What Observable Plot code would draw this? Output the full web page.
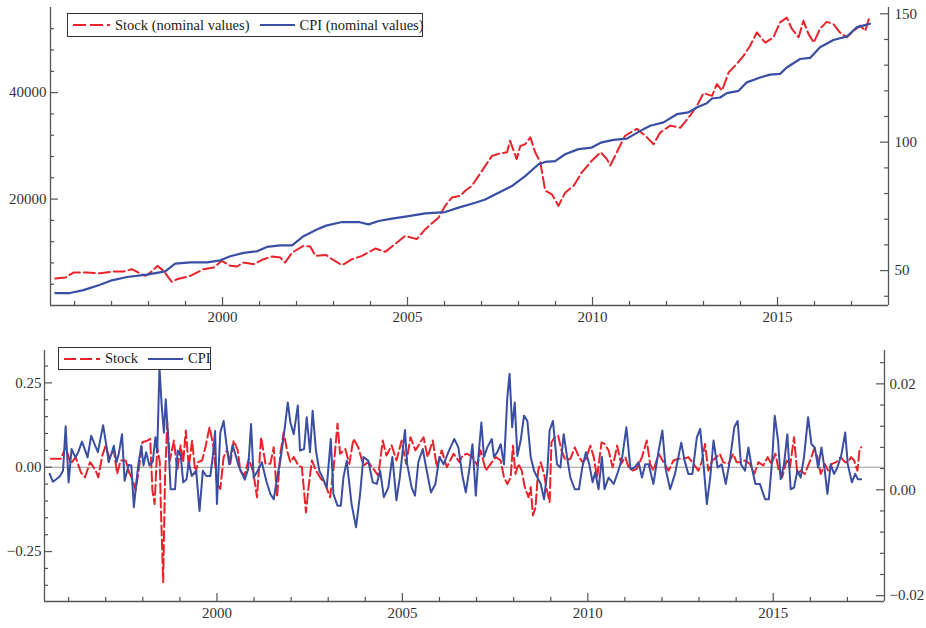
<!DOCTYPE html>
<html>
<head>
<meta charset="utf-8">
<script src="https://cdn.jsdelivr.net/npm/d3@7"></script>
<script src="https://cdn.jsdelivr.net/npm/@observablehq/plot@0.6"></script>
<style>
  html, body { margin: 0; padding: 0; background: #fff; }
  #wrap { position: relative; width: 926px; height: 628px; font-family: "Liberation Serif", "Times New Roman", serif; }
  #wrap svg { display: block; }
  .legend { position: absolute; background: #fff; border: 1px solid #333; box-sizing: border-box;
            display: flex; align-items: center; font-size: 14.5px; color: #222; white-space: nowrap; }
  .legend svg { display: block; }
</style>
</head>
<body>
<div id="wrap"></div>
<script>
// ---------- data ----------
// Top panel: nominal stock index (left axis) and CPI (right axis)
const stockYear = [1995.48,1995.75,1995.97,1996.33,1996.69,1997.05,1997.32,1997.55,1997.73,1997.91,1998.05,1998.24,1998.41,1998.54,1998.63,1998.77,1999.13,1999.49,1999.76,1999.98,2000.21,2000.39,2000.57,2000.84,2001.11,2001.34,2001.56,2001.69,2001.88,2002.19,2002.37,2002.51,2002.8,2002.96,2003.23,2003.5,2003.77,2004.13,2004.4,2004.58,2004.94,2005.25,2005.48,2005.84,2006.02,2006.2,2006.42,2006.56,2006.74,2007.01,2007.28,2007.46,2007.69,2007.77,2007.95,2008.05,2008.18,2008.32,2008.45,2008.59,2008.72,2008.9,2009.08,2009.26,2009.49,2009.71,2009.98,2010.22,2010.39,2010.48,2010.7,2010.88,2011.2,2011.47,2011.65,2011.83,2012.1,2012.37,2012.64,2012.82,2013.0,2013.23,2013.36,2013.5,2013.68,2013.9,2014.08,2014.26,2014.44,2014.67,2014.89,2015.07,2015.25,2015.39,2015.57,2015.7,2015.84,2015.98,2016.15,2016.33,2016.51,2016.69,2016.87,2017.05,2017.24,2017.37,2017.48];
const stockValue = [5060,5250,6190,6190,6070,6380,6380,6820,6190,5570,6190,7450,6500,5250,4440,4940,5570,6820,7130,8390,7450,7330,8070,7760,8700,9200,9000,8070,9950,11200,11100,9330,9500,8700,7580,8700,9330,10700,10080,11080,13090,12470,14350,16530,18730,20300,20600,21550,22500,25300,28100,28500,28800,30960,27500,30000,30300,31600,28800,26900,21600,20900,18730,21200,22500,25000,27200,28800,27500,26300,29400,31900,33200,31600,30300,32500,33800,33400,35700,37500,39900,39400,41600,40400,43800,45400,46900,48800,51300,49400,50400,53200,54100,51960,50400,53500,51000,49400,52000,53300,52900,51300,50400,51600,52600,51600,54100];

const cpiYear = [1995.48,1995.88,1996.24,1996.69,1997.01,1997.42,1997.96,1998.45,1998.72,1999.13,1999.58,1999.94,2000.21,2000.57,2000.93,2001.2,2001.56,2001.88,2002.19,2002.55,2002.8,2003.23,2003.68,2003.95,2004.22,2004.58,2005.03,2005.48,2006.02,2006.38,2006.83,2007.1,2007.46,2007.82,2008.18,2008.54,2008.72,2008.99,2009.26,2009.62,2009.98,2010.22,2010.57,2010.93,2011.29,2011.56,2011.92,2012.28,2012.59,2012.82,2013.09,2013.23,2013.45,2013.63,2013.95,2014.17,2014.53,2014.8,2015.07,2015.25,2015.61,2015.88,2016.15,2016.51,2016.88,2017.15,2017.42,2017.5];
const cpiValue = [41.25,41.25,42.4,44.5,46.2,47.5,48.4,49.7,52.7,53.2,53.2,54.0,55.6,56.9,57.5,59.2,59.8,59.8,63.4,66.0,67.5,68.9,68.9,68.0,69.3,70.2,71.2,72.3,72.8,74.5,76.4,77.7,80.3,82.9,86.8,91.4,92.3,92.6,95.3,97.3,97.9,99.8,100.9,101.4,104.4,106.4,107.7,110.9,111.6,113.5,115.2,117.0,117.4,119.1,120.0,123.3,125.2,126.3,126.6,129.1,132.4,132.8,137.0,139.8,141.2,144.8,145.8,146.1];

// Bottom panel: stock returns (left axis) and CPI inflation (right axis)
const retYear = [1995.52,1995.79,1995.92,1996.06,1996.19,1996.33,1996.44,1996.58,1996.73,1996.8,1996.91,1997.0,1997.09,1997.22,1997.31,1997.4,1997.54,1997.63,1997.72,1997.81,1997.9,1997.99,1998.12,1998.2,1998.26,1998.32,1998.39,1998.46,1998.48,1998.55,1998.6,1998.66,1998.73,1998.84,1998.93,1999.02,1999.09,1999.16,1999.24,1999.33,1999.42,1999.49,1999.6,1999.69,1999.8,1999.91,2000.0,2000.09,2000.18,2000.27,2000.36,2000.45,2000.56,2000.63,2000.74,2000.86,2000.98,2001.08,2001.19,2001.31,2001.44,2001.53,2001.62,2001.71,2001.8,2001.89,2001.98,2002.07,2002.2,2002.29,2002.4,2002.47,2002.56,2002.67,2002.78,2002.92,2003.05,2003.14,2003.25,2003.32,2003.46,2003.57,2003.68,2003.81,2003.95,2004.08,2004.22,2004.35,2004.47,2004.57,2004.71,2004.84,2004.98,2005.1,2005.22,2005.35,2005.46,2005.57,2005.68,2005.82,2005.93,2006.06,2006.2,2006.38,2006.54,2006.62,2006.75,2006.89,2007.02,2007.11,2007.25,2007.38,2007.52,2007.65,2007.74,2007.83,2007.92,2007.98,2008.05,2008.13,2008.22,2008.3,2008.4,2008.46,2008.52,2008.59,2008.66,2008.73,2008.82,2008.88,2008.97,2009.02,2009.11,2009.2,2009.29,2009.4,2009.53,2009.65,2009.76,2009.86,2009.95,2010.07,2010.16,2010.25,2010.37,2010.45,2010.56,2010.67,2010.79,2010.9,2011.01,2011.1,2011.21,2011.32,2011.46,2011.59,2011.68,2011.77,2011.91,2012.04,2012.18,2012.31,2012.44,2012.58,2012.71,2012.85,2012.98,2013.07,2013.16,2013.25,2013.36,2013.47,2013.56,2013.65,2013.79,2013.92,2014.01,2014.13,2014.24,2014.37,2014.49,2014.6,2014.73,2014.85,2014.95,2015.06,2015.15,2015.24,2015.36,2015.45,2015.56,2015.65,2015.74,2015.85,2015.96,2016.03,2016.1,2016.19,2016.28,2016.39,2016.48,2016.58,2016.7,2016.82,2016.93,2017.01,2017.1,2017.18,2017.27,2017.33,2017.37];
const retValue = [0.025,0.025,0.059,0.010,0.030,-0.015,-0.030,0.015,-0.010,-0.030,0.035,0.065,0.030,0.050,-0.020,0.020,0.020,-0.015,-0.035,-0.069,0,0.074,0.079,0.084,-0.069,-0.109,0.059,0.015,-0.089,-0.341,-0.030,0.134,0.020,0.079,-0.010,0.065,0.015,0.109,0,0.079,-0.020,0.015,0.020,0.059,0.119,0.059,-0.050,-0.064,0.030,0.050,0.010,0.079,0.050,-0.010,-0.025,0.025,-0.015,-0.089,0.089,0.010,0.010,0.059,-0.089,0.040,0.104,0.050,0.015,0.030,0.005,0,-0.134,-0.059,0.020,-0.010,-0.030,-0.050,-0.089,-0.010,0.129,0.040,0.054,0.010,0.084,0.059,0.005,0.015,-0.005,-0.025,0.079,0.035,0.065,0.020,0.079,0.010,0.089,0.050,0.069,0.089,0.030,0.079,0,0.050,0,0.040,0.015,0.035,0.040,0.030,0.005,0.050,-0.010,0.010,0.030,0.020,-0.030,-0.050,-0.030,0.064,-0.020,0.010,-0.010,-0.059,-0.089,-0.059,-0.143,-0.119,-0.010,0.015,-0.020,-0.059,-0.104,0.074,0.089,0.094,0.050,0.020,0.025,0.059,0.030,0.015,0.025,0.064,0.030,-0.030,0.074,0.069,0.050,0,0.064,0.010,0.030,0,-0.010,-0.005,0.030,0.079,0.010,-0.010,0.040,0.015,-0.010,0.020,0.025,0.025,0.030,0.010,-0.010,0.015,0.069,-0.010,0.020,0.030,0.040,0.015,0.010,0.040,0.015,0.015,0.020,0.010,-0.020,0.015,0.005,0.030,0.010,0.040,-0.010,-0.030,0.020,0,0.089,-0.020,-0.010,-0.020,0.010,0.030,0.054,0.030,-0.020,0.010,-0.010,0.010,0.015,0.030,0.015,0.015,0.030,0.020,-0.010,0.054,0.059];

const inflYear = [1995.49,1995.58,1995.76,1995.85,1995.92,1996.0,1996.08,1996.18,1996.26,1996.36,1996.45,1996.51,1996.61,1996.7,1996.79,1996.93,1997.02,1997.08,1997.15,1997.22,1997.29,1997.35,1997.44,1997.51,1997.62,1997.69,1997.76,1997.83,1997.89,1997.96,1998.02,1998.09,1998.18,1998.27,1998.34,1998.39,1998.45,1998.51,1998.57,1998.62,1998.68,1998.75,1998.87,1998.94,1999.02,1999.09,1999.18,1999.24,1999.32,1999.44,1999.53,1999.62,1999.71,1999.82,1999.89,1999.95,2000.0,2000.09,2000.18,2000.25,2000.33,2000.42,2000.51,2000.58,2000.66,2000.75,2000.84,2000.92,2000.99,2001.1,2001.21,2001.33,2001.44,2001.53,2001.64,2001.71,2001.82,2001.91,2001.98,2002.07,2002.18,2002.24,2002.35,2002.42,2002.51,2002.58,2002.67,2002.76,2002.85,2002.96,2003.07,2003.14,2003.25,2003.34,2003.41,2003.5,2003.63,2003.75,2003.86,2003.95,2004.08,2004.2,2004.31,2004.4,2004.5,2004.62,2004.73,2004.84,2004.93,2005.07,2005.13,2005.25,2005.34,2005.43,2005.55,2005.64,2005.77,2005.89,2006.0,2006.11,2006.24,2006.4,2006.51,2006.62,2006.71,2006.8,2006.89,2006.98,2007.05,2007.13,2007.2,2007.29,2007.41,2007.47,2007.56,2007.65,2007.74,2007.83,2007.89,2007.96,2008.03,2008.1,2008.19,2008.28,2008.37,2008.46,2008.55,2008.64,2008.73,2008.82,2008.91,2008.97,2009.06,2009.17,2009.26,2009.35,2009.44,2009.53,2009.65,2009.76,2009.85,2009.95,2010.04,2010.13,2010.2,2010.29,2010.38,2010.45,2010.56,2010.7,2010.81,2010.92,2011.04,2011.15,2011.26,2011.37,2011.46,2011.55,2011.64,2011.77,2011.91,2012.01,2012.1,2012.22,2012.35,2012.52,2012.61,2012.71,2012.82,2012.94,2013.03,2013.12,2013.21,2013.3,2013.39,2013.5,2013.61,2013.72,2013.83,2013.95,2014.04,2014.13,2014.24,2014.33,2014.42,2014.52,2014.64,2014.78,2014.88,2014.97,2015.04,2015.13,2015.2,2015.29,2015.38,2015.47,2015.56,2015.65,2015.74,2015.83,2015.94,2016.03,2016.12,2016.21,2016.3,2016.39,2016.46,2016.55,2016.64,2016.73,2016.84,2016.94,2017.01,2017.12,2017.21,2017.28,2017.37];
const inflValue = [0.0030,0.0015,0.0025,0.0036,0.0120,0.0014,0.0077,0.0061,0.0071,0.0091,0.0074,0.0061,0.0102,0.0086,0.0071,0.0122,0.0083,0.0052,0.0067,0.0083,0.0052,0.0067,0.0105,0.0017,0.0047,0.0046,-0.0033,0.0017,0.0052,0.0083,0.0046,0.0071,0.0046,0.0053,0.0099,0.0071,0.0231,0.0159,0.0108,0.0171,0.0102,0.0001,0.0001,0.0074,0.0067,0.0014,0.0020,0.0052,0.0026,0.0036,-0.0040,0.0036,0.0026,0.0026,0.0064,0.0111,-0.0027,0.0108,0.0130,0.0089,0.0048,0.0084,0.0064,0.0046,0.0033,0.0019,0.0039,0.0124,0.0023,0.0036,0.0052,0.0017,-0.0008,-0.0018,0.0030,0.0055,0.0112,0.0165,0.0127,0.0105,0.0159,0.0074,0.0077,0.0137,0.0071,0.0149,0.0074,0.0036,0.0023,0.0004,0.0096,-0.0008,-0.0030,-0.0030,0.0023,0.0055,-0.0027,-0.0071,-0.0008,0.0062,0.0055,0.0014,0.0011,0.0036,-0.0014,0.0004,0.0062,-0.0020,0.0023,0.0113,0.0048,0.0004,-0.0011,0.0052,0.0077,0.0042,-0.0005,0.0011,0.0062,0.0048,0.0071,0.0096,0.0080,0.0026,-0.0005,0.0036,0.0086,-0.0011,0.0062,0.0127,0.0062,0.0080,0.0096,0.0062,0.0071,0.0086,0.0048,0.0175,0.0219,0.0118,0.0165,0.0064,0.0093,0.0140,0.0130,0.0062,0.0036,0.0023,0.0011,-0.0018,0.0036,0.0112,0.0130,0.0048,0.0042,0.0105,0.0062,0.0023,0.0001,0.0001,0.0042,0.0071,0.0048,0.0014,0.0033,0.0001,0.0062,0.0001,0.0023,0.0011,0.0033,0.0058,0.0118,0.0039,0.0042,0.0052,0.0023,0.0048,0.0048,0.0011,0.0074,0.0112,0.0039,0.0001,0.0030,0.0089,0.0055,0.0030,0.0030,0.0099,0.0115,0.0048,-0.0027,0.0023,0.0093,0.0042,0.0048,0.0011,0.0055,0.0118,0.0130,0.0048,0.0036,0.0080,0.0042,0.0011,0.0011,-0.0018,-0.0018,0.0055,0.0140,0.0093,0.0020,0.0048,0.0105,0.0001,0.0004,0.0036,0.0023,0.0062,0.0137,0.0086,0.0080,0.0042,0.0080,0.0036,-0.0008,0.0048,0.0030,0.0042,0.0067,0.0108,0.0048,0.0014,0.0030,0.0020,0.0020];

// axis ticks
const yearMajor = [2000, 2005, 2010, 2015];
const yearMinor = [1996,1997,1998,1999,2001,2002,2003,2004,2006,2007,2008,2009,2011,2012,2013,2014,2016,2017];
const stockMajor = [20000, 40000];
const stockMinor = [4000,8000,12000,16000,24000,28000,32000,36000,44000,48000,52000];
const cpiMajor = [50, 100, 150];
const cpiMinor = [40,60,70,80,90,110,120,130,140];
const retMajor = [-0.25, 0, 0.25];
const retMinor = [-0.35,-0.3,-0.2,-0.15,-0.1,-0.05,0.05,0.1,0.15,0.2,0.3];
const inflMajor = [-0.02, 0, 0.02];
const inflMinor = [-0.016,-0.012,-0.008,-0.004,0.004,0.008,0.012,0.016,0.024];

// ---------- styling ----------
const RED = "#e8232a", BLUE = "#3a4ea3", AXIS = "#555", TXT = "#333";
const FONT = "Liberation Serif, Times New Roman, serif";
const W = 926;
const xDomain = [1995.35, 2018.0];

function panel(cfg) {
  const {height, mt, mb, ml, mr, leftDomain, rightDomain, leftMajor, leftMinor, rightMajor, rightMinor,
         leftFmt, rightFmt, series, zeroLine, leftPad, rightPad} = cfg;
  const toLeft = d3.scaleLinear().domain(rightDomain).range(leftDomain);
  const plotW = W - ml - mr, plotH = height - mt - mb;
  const kx = (xDomain[1] - xDomain[0]) / plotW;
  const ky = (leftDomain[1] - leftDomain[0]) / plotH;
  const y0 = leftDomain[0], x0 = xDomain[0], x1 = xDomain[1];
  const marks = [];
  if (zeroLine) marks.push(Plot.ruleY([0], {stroke: "#9a9a9a", strokeWidth: 1.2}));
  for (const s of series) {
    const data = d3.zip(s.x, s.y).map(([x, y]) => ({x, y: s.right ? toLeft(y) : y}));
    marks.push(Plot.line(data, {x: "x", y: "y", stroke: s.color, strokeWidth: s.width,
      strokeDasharray: s.dash || null, strokeLinejoin: "round"}));
  }
  // frame: left, right, bottom
  marks.push(Plot.ruleX([x0, x1], {stroke: AXIS, strokeWidth: 1.3}));
  marks.push(Plot.ruleY([y0], {stroke: AXIS, strokeWidth: 1.3}));
  // inward ticks
  marks.push(Plot.ruleX(yearMajor, {x: d => d, y1: y0, y2: y0 + 8 * ky, stroke: AXIS, strokeWidth: 1.2}));
  marks.push(Plot.ruleX(yearMinor, {x: d => d, y1: y0, y2: y0 + 4 * ky, stroke: AXIS, strokeWidth: 1.2}));
  marks.push(Plot.ruleY(leftMajor, {y: d => d, x1: x0, x2: x0 + 8 * kx, stroke: AXIS, strokeWidth: 1.2}));
  marks.push(Plot.ruleY(leftMinor, {y: d => d, x1: x0, x2: x0 + 4 * kx, stroke: AXIS, strokeWidth: 1.2}));
  marks.push(Plot.ruleY(rightMajor.map(toLeft), {y: d => d, x1: x1 - 8 * kx, x2: x1, stroke: AXIS, strokeWidth: 1.2}));
  marks.push(Plot.ruleY(rightMinor.map(toLeft), {y: d => d, x1: x1 - 4 * kx, x2: x1, stroke: AXIS, strokeWidth: 1.2}));
  // tick labels
  marks.push(Plot.axisX(yearMajor, {anchor: "bottom", tickSize: 0, tickPadding: 6, tickFormat: d3.format("d"), label: null, fill: TXT}));
  marks.push(Plot.axisY(leftMajor, {anchor: "left", tickSize: 0, tickPadding: leftPad, tickFormat: leftFmt, label: null, fill: TXT}));
  marks.push(Plot.axisY(rightMajor.map(toLeft), {anchor: "right", tickSize: 0, tickPadding: rightPad,
    tickFormat: d => rightFmt(toLeft.invert(d)), label: null, fill: TXT}));
  return Plot.plot({
    width: W, height, marginTop: mt, marginBottom: mb, marginLeft: ml, marginRight: mr,
    x: {domain: xDomain}, y: {domain: leftDomain},
    style: {fontFamily: FONT, fontSize: "15px", color: TXT, background: "#fff", overflow: "visible"},
    marks
  });
}

const wrap = document.getElementById("wrap");

const topPlot = panel({
  height: 330, mt: 7, mb: 25, ml: 50, mr: 38,
  leftDomain: [0, 56000], rightDomain: [36.4, 152.45],
  leftMajor: stockMajor, leftMinor: stockMinor, rightMajor: cpiMajor, rightMinor: cpiMinor,
  leftFmt: d3.format("d"), rightFmt: d3.format("d"), leftPad: 4, rightPad: 6,
  series: [
    {x: stockYear, y: stockValue, color: RED, width: 2, dash: "11,4"},
    {x: cpiYear, y: cpiValue, color: BLUE, width: 2.2, right: true}
  ]
});
wrap.appendChild(topPlot);

const botPlot = panel({
  height: 298, mt: 20, mb: 27, ml: 44, mr: 42,
  leftDomain: [-0.398, 0.346], rightDomain: [-0.0211, 0.0263],
  leftMajor: retMajor, leftMinor: retMinor, rightMajor: inflMajor, rightMinor: inflMinor,
  leftFmt: d3.format(".2f"), rightFmt: d3.format(".2f"), leftPad: 3, rightPad: 5,
  zeroLine: true,
  series: [
    {x: retYear, y: retValue, color: RED, width: 2, dash: "10,4"},
    {x: inflYear, y: inflValue, color: BLUE, width: 2, right: true}
  ]
});
wrap.appendChild(botPlot);

// ---------- legends ----------
function sample(color, dash, w) {
  return `<svg width="${w}" height="10"><line x1="0" y1="5" x2="${w}" y2="5" stroke="${color}" stroke-width="2.2" ${dash ? `stroke-dasharray="${dash}"` : ""}/></svg>`;
}
function legend(left, top, width, height, items) {
  const div = document.createElement("div");
  div.className = "legend";
  Object.assign(div.style, {left: left + "px", top: top + "px", width: width + "px", height: height + "px"});
  div.innerHTML = items.map(([c, d, w, label], i) =>
    `<span style="margin-left:${i === 0 ? 5 : 10}px">${sample(c, d, w)}</span><span style="margin-left:5px">${label}</span>`
  ).join("");
  wrap.appendChild(div);
}
const topLegendLabels = ["Stock (nominal values)", "CPI (nominal values)"];
const botLegendLabels = ["Stock", "CPI"];
legend(67, 13, 356, 24, [[RED, "13,4", 37, topLegendLabels[0]], [BLUE, null, 35, topLegendLabels[1]]]);
legend(58, 347, 153, 23, [[RED, "12,4", 36, botLegendLabels[0]], [BLUE, null, 35, botLegendLabels[1]]]);
</script>
</body>
</html>
